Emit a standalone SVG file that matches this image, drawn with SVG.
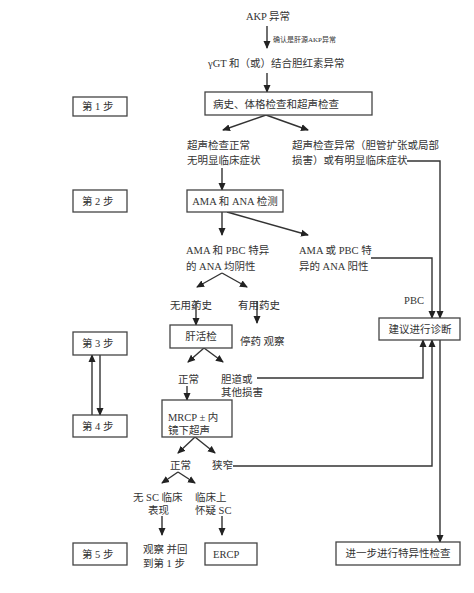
<svg xmlns="http://www.w3.org/2000/svg" width="474" height="593" viewBox="0 0 474 593">
<defs>
<marker id="ah" markerUnits="userSpaceOnUse" markerWidth="8" markerHeight="8" viewBox="0 0 8 8" refX="7" refY="4" orient="auto">
<path d="M0,0.5 L8,4 L0,7.5 Z" fill="#222"/>
</marker>
<style>
text{font-family:"Liberation Serif","Noto Sans CJK SC",serif;font-size:10.5px;fill:#333}
.s{font-size:7px}
.m{text-anchor:middle}
rect{fill:#fff;stroke:#444;stroke-width:1.3}
.c path,.c line{fill:none;stroke:#333;stroke-width:1.4}
.a{marker-end:url(#ah)}
</style>
</defs>
<rect x="0" y="0" width="474" height="593" style="stroke:none"/>
<g class="c" id="connectors">
<line class="a" x1="267" y1="26" x2="267" y2="48"/>
<line class="a" x1="267" y1="73" x2="267" y2="92"/>
<line class="a" x1="266" y1="115" x2="223" y2="130"/>
<line class="a" x1="266" y1="115" x2="308" y2="130"/>
<line class="a" x1="222" y1="168" x2="222" y2="190"/>
<line class="a" x1="222" y1="212" x2="222" y2="235"/>
<line class="a" x1="227" y1="212" x2="308" y2="235"/>
<path class="a" d="M371,258 H432 V318"/>
<path class="a" d="M407,161 H440 V318"/>
<line class="a" x1="222" y1="273" x2="197" y2="287"/>
<line class="a" x1="222" y1="273" x2="247" y2="287"/>
<line class="a" x1="196" y1="301" x2="196" y2="325"/>
<line class="a" x1="257" y1="301" x2="257" y2="323"/>
<line class="a" x1="204" y1="348" x2="188" y2="362"/>
<line class="a" x1="204" y1="348" x2="223" y2="362"/>
<path class="a" d="M257,378 H423 V340"/>
<line class="a" x1="187" y1="386" x2="187" y2="400"/>
<line class="a" x1="195" y1="437" x2="178" y2="453"/>
<line class="a" x1="195" y1="437" x2="215" y2="453"/>
<path class="a" d="M233,466 H432 V340"/>
<line class="a" x1="440" y1="340" x2="440" y2="542"/>
<line class="a" x1="178" y1="472" x2="162" y2="483"/>
<line class="a" x1="178" y1="472" x2="195" y2="483"/>
<line class="a" x1="162" y1="516" x2="162" y2="535"/>
<line class="a" x1="222" y1="516" x2="222" y2="535"/>
<line class="a" x1="92" y1="415" x2="92" y2="355"/>
<line class="a" x1="100" y1="355" x2="100" y2="415"/>
</g>
<g id="n-akp"><text x="268" y="20" class="m">AKP 异常</text></g>
<g id="l-confirm"><text x="273" y="42" class="s">确认是肝源AKP异常</text></g>
<g id="n-ggt"><text x="208" y="67">γGT 和（或）结合胆红素异常</text></g>
<g id="n-history"><rect x="205" y="92" width="167" height="23"/><text x="213" y="108">病史、体格检查和超声检查</text></g>
<g id="n-us-normal"><text x="187" y="149">超声检查正常</text><text x="187" y="164">无明显临床症状</text></g>
<g id="n-us-abn"><text x="292" y="149">超声检查异常（胆管扩张或局部</text><text x="292" y="164">损害）或有明显临床症状</text></g>
<g id="n-ama"><rect x="187" y="190" width="96" height="22"/><text x="235" y="205" class="m">AMA 和 ANA 检测</text></g>
<g id="n-neg"><text x="186" y="254">AMA 和 PBC 特异</text><text x="186" y="270">的 ANA 均阴性</text></g>
<g id="n-pos"><text x="299" y="254">AMA 或 PBC 特</text><text x="299" y="270">异的 ANA 阳性</text></g>
<g id="n-nodrug"><text x="170" y="309">无用药史</text></g>
<g id="n-drug"><text x="238" y="309">有用药史</text></g>
<g id="l-pbc"><text x="414" y="304" class="m">PBC</text></g>
<g id="n-diag"><rect x="379" y="318" width="81" height="22"/><text x="420" y="333" class="m">建议进行诊断</text></g>
<g id="n-biopsy"><rect x="170" y="325" width="62" height="23"/><text x="201" y="340" class="m">肝活检</text></g>
<g id="n-stop"><text x="240" y="345">停药 观察</text></g>
<g id="n-normal1"><text x="178" y="383">正常</text></g>
<g id="n-biliary"><text x="221" y="383">胆道或</text><text x="221" y="396">其他损害</text></g>
<g id="n-mrcp"><rect x="162" y="400" width="70" height="37"/><text x="168" y="421">MRCP ± 内</text><text x="168" y="434">镜下超声</text></g>
<g id="n-normal2"><text x="170" y="469">正常</text></g>
<g id="n-stenosis"><text x="212" y="469">狭窄</text></g>
<g id="n-nosc"><text x="133" y="501">无 SC 临床</text><text x="148" y="514">表现</text></g>
<g id="n-sc"><text x="195" y="501">临床上</text><text x="195" y="514">怀疑 SC</text></g>
<g id="n-observe"><text x="143" y="553">观察 并回</text><text x="143" y="567">到第 1 步</text></g>
<g id="n-ercp"><rect x="205" y="543" width="52" height="22"/><text x="213" y="558">ERCP</text></g>
<g id="n-further"><rect x="336" y="542" width="124" height="23"/><text x="398" y="557" class="m">进一步进行特异性检查</text></g>
<g id="step1"><rect x="73" y="97" width="54" height="19"/><text x="82" y="110">第 1 步</text></g>
<g id="step2"><rect x="73" y="190" width="54" height="22"/><text x="82" y="205">第 2 步</text></g>
<g id="step3"><rect x="73" y="332" width="54" height="23"/><text x="82" y="347">第 3 步</text></g>
<g id="step4"><rect x="73" y="415" width="54" height="22"/><text x="82" y="430">第 4 步</text></g>
<g id="step5"><rect x="73" y="543" width="54" height="22"/><text x="82" y="558">第 5 步</text></g>
</svg>
